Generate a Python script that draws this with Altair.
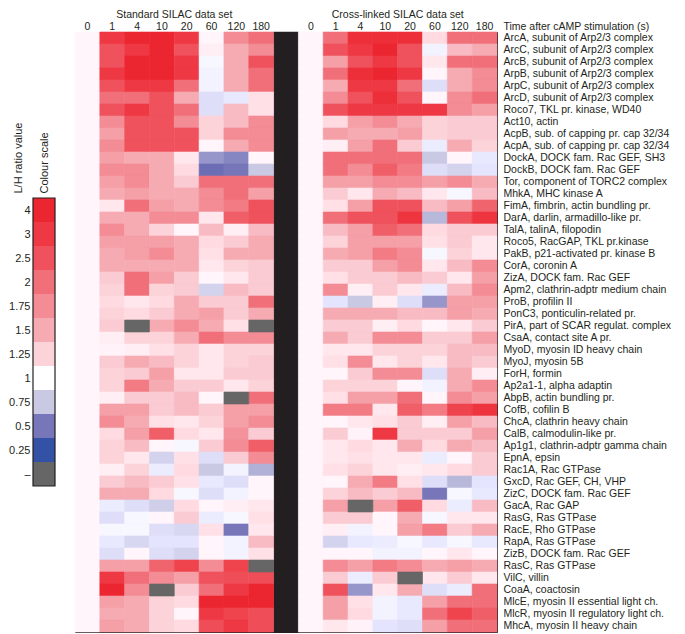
import json
import altair as alt
import pandas as pd

FONT = "Liberation Sans"
INK = "#231f20"
FS = 10.5
FS_LEG = 11

proteins = [
    "ArcA, subunit of Arp2/3 complex", "ArcC, subunit of Arp2/3 complex",
    "ArcB, subunit of Arp2/3 complex", "ArpB, subunit of Arp2/3 complex",
    "ArpC, subunit of Arp2/3 complex", "ArcD, subunit of Arp2/3 complex",
    "Roco7, TKL pr. kinase, WD40", "Act10, actin",
    "AcpB, sub. of capping pr. cap 32/34", "AcpA, sub. of capping pr. cap 32/34",
    "DockA, DOCK fam. Rac GEF, SH3", "DockB, DOCK fam. Rac GEF",
    "Tor, component of TORC2 complex", "MhkA, MHC kinase A",
    "FimA, fimbrin, actin bundling pr.", "DarA, darlin, armadillo-like pr.",
    "TalA, talinA, filopodin", "Roco5, RacGAP, TKL pr.kinase",
    "PakB, p21-activated pr. kinase B", "CorA, coronin A",
    "ZizA, DOCK fam. Rac GEF", "Apm2, clathrin-adptr medium chain",
    "ProB, profilin II", "PonC3, ponticulin-related pr.",
    "PirA, part of SCAR regulat. complex", "CsaA, contact site A pr.",
    "MyoD, myosin ID heavy chain", "MyoJ, myosin 5B",
    "ForH, formin", "Ap2a1-1, alpha adaptin",
    "AbpB, actin bundling pr.", "CofB, cofilin B",
    "ChcA, clathrin heavy chain", "CalB, calmodulin-like pr.",
    "Ap1g1, clathrin-adptr gamma chain", "EpnA, epsin",
    "Rac1A, Rac GTPase", "GxcD, Rac GEF, CH, VHP",
    "ZizC, DOCK fam. Rac GEF", "GacA, Rac GAP",
    "RasG, Ras GTPase", "RacE, Rho GTPase",
    "RapA, Ras GTPase", "ZizB, DOCK fam. Rac GEF",
    "RasC, Ras GTPase", "VilC, villin",
    "CoaA, coactosin", "MlcE, myosin II essential light ch.",
    "MlcR, myosin II regulatory light ch.", "MhcA, myosin II heavy chain",
]

times = ["0", "1", "4", "10", "20", "60", "120", "180"]

# ---- Standard SILAC data set (L/H ratio per time point, rows in protein order)
std_0 = [1, 1, 1, 1, 1, 1, 1, 1, 1, 1,
         1, 1, 1, 1, 1, 1, 1, 1, 1, 1,
         1, 1, 1, 1, 1, 1, 1, 1, 1, 1,
         1, 1, 1, 1, 1, 1, 1, 1, 1, 1,
         1, 1, 1, 1, 1, 1, 1, 1, 1, 1]
std_1 = [3, 2.5, 2.5, 3, 2.5, 2, 2.5, 1.75, 1.6, 1.75,
         1.6, 1.75, 1.6, 1.5, 1.1, 1.5, 1.75, 1.6, 1.5, 1.5,
         1.3, 1.25, 1.2, 1.25, 1.3, 1.05, 1.02, 1.3, 1.25, 1.25,
         1.05, 1.6, 1.75, 1.2, 1.25, 1.25, 1.05, 1.3, 1.5, 0.92,
         0.85, 0.97, 0.9, 0.85, 1.6, 3, 4, 1.6, 1.5, 1.6]
std_4 = [4, 3, 4, 4, 3, 2, 3, 2.5, 2.5, 2.5,
         1.5, 1.75, 1.75, 1.6, 2, 1.5, 1.5, 1.6, 1.6, 1.5,
         2, 2, 1.1, 1.2, None, 1.25, 1.05, 1.5, 1.3, 1.9,
         1.3, 1.6, 1.5, 1.6, 1.4, 1.1, 1.25, 1.4, 1.5, 0.85,
         0.97, 0.97, 0.82, 1.0, 1.6, 2, 1.75, 1.5, 1.5, 1.5]
std_10 = [4, 4, 4, 4, 3, 2.5, 2.5, 2.5, 2.5, 2.5,
          1.5, 1.5, 1.5, 1.5, 1.6, 1.75, 1.25, 1.6, 1.75, 1.5,
          1.6, 1.25, 1.2, 1.3, 1.5, 1.25, 1.15, 1.4, 1.6, 1.5,
          1.3, 1.3, 1.15, 2.3, 1.0, 0.8, 0.92, 1.3, 1.2, 0.78,
          1.0, 0.85, 0.88, 0.85, 2.2, 1.75, None, 1.25, 1.25, 1.25]
std_20 = [3, 2.5, 3, 3, 2, 1.5, 2, 1.75, 2.5, 2.5,
          1.1, 1.2, 1.3, 1.5, 1.5, 1.75, 1.0, 1.5, 1.5, 1.5,
          1.3, 1.3, 1.5, 1.5, 1.75, 1.5, 1.25, 1.25, 1.1, 1.3,
          1.4, 1.4, 1.1, 1.2, 0.97, 1.15, 1.2, 1.15, 0.97, 1.2,
          1.3, 0.82, 0.88, 0.8, 2.8, 1.6, 1.3, 1.2, 1.0, 1.2]
std_60 = [1.0, 1.05, 0.97, 0.95, 0.95, 0.85, 0.85, 1.25, 1.25, 1.0,
          0.6, 0.45, 2, 1.75, 1.75, 1.1, 1.4, 1.2, 1.15, 1.1,
          1.0, 0.8, 1.3, 1.6, 1.5, 2, 1.1, 1.1, 1.1, 1.3,
          1.0, 1.3, 1.25, 1.1, 1.3, 0.85, 0.75, 0.9, 0.85, 1.0,
          0.92, 1.15, 1.0, 1.0, 1.75, 2.5, 2, 4, 3, 2.6]
std_120 = [1.75, 1.5, 1.5, 1.5, 1.5, 0.9, 1.4, 1.4, 1.75, 1.5,
           0.55, 0.5, 2, 2, 1.9, 2.3, 1.05, 1.3, 1.5, 1.25,
           1.1, 1.4, 1.3, 1.3, 1.15, 1.75, 1.25, 1.25, 1.3, 1.1,
           None, 1.6, 1.6, 1.7, 1.75, 1.3, 0.95, 0.85, 0.95, 1.05,
           0.97, 0.5, 0.95, 0.95, 2.8, 2.6, 3, 4, 2.8, 3]
std_180 = [2, 1.75, 2.5, 2, 2, 1.15, 1.15, 1.75, 1.75, 1.75,
           1.0, 0.75, 2, 1.6, 2.5, 2.5, 1.4, 1.5, 1.5, 1.3,
           1.3, 1.3, 2, 1.5, None, 1.75, 1.25, 1.3, 1.3, 1.25,
           2, 1.6, 1.75, 1.3, 2.3, 1.75, 0.68, 1.0, 1.0, 1.1,
           1.15, 1.1, 1.4, 1.15, None, 2.6, 4, 4, 2.6, 2.6]

# ---- Cross-linked SILAC data set
xl_0 = [1, 1, 1, 1, 1, 1, 1, 1, 1, 1,
        1, 1, 1, 1, 1, 1, 1, 1, 1, 1,
        1, 1, 1, 1, 1, 1, 1, 1, 1, 1,
        1, 1, 1, 1, 1, 1, 1, 1, 1, 1,
        1, 1, 1, 1, 1, 1, 1, 1, 1, 1]
xl_1 = [2, 2.5, 1.6, 2, 1.5, 1.75, 2.5, 1.2, 1.6, 1.05,
        2, 2, 1.6, 1.3, 1.15, 2, 1.4, 1.25, 1.5, 1.3,
        1.15, 1.75, 0.88, 1.5, 1.3, 1.5, 1.1, 1.15, 1.0, 1.25,
        1.15, 1.9, 1.0, 1.3, 1.1, 1.1, 1.15, 1.0, 1.25, 1.6,
        1.3, 1.05, 0.8, 1.0, 1.75, 1.3, 2.5, 1.6, 1.6, 1.1]
xl_4 = [3.5, 3, 2.5, 3.5, 3, 2.5, 3, 1.6, 1.5, 1.6,
        2, 1.75, 1.6, 1.1, 1.6, 2.5, 1.6, 1.6, 1.6, 1.3,
        1.3, 1.05, 0.75, 1.5, 1.3, 1.3, 1.1, 1.75, 1.3, 1.25,
        1.6, 1.9, 1.1, 1.02, 1.2, 1.15, 1.25, 1.5, 1.4, None,
        1.3, 0.95, 0.9, 1.0, 1.6, 0.92, 0.6, 1.15, 1.2, 1.02]
xl_10 = [3.5, 4, 3, 4, 3, 3.5, 3, 1.75, 1.5, 2,
         2, 2.3, 1.75, 1.5, 2.5, 2.5, 2.3, 1.6, 1.9, 1.6,
         1.3, 1.3, 1.05, 1.5, 1.05, 1.75, 1.25, 1.1, 1.75, 1.25,
         1.6, 1.1, 1.15, 3, 1.1, 1.1, 1.1, 1.9, 1.3, 1.6,
         1.0, 1.0, 0.92, 0.95, 1.9, 1.3, 1.1, 0.95, 0.95, 0.88]
xl_20 = [3.5, 2.5, 2.5, 3, 2, 2.5, 3, 1.5, 1.6, 1.3,
         2, 1.9, 1.75, 1.4, 2.5, 3.2, 2, 1.6, 1.75, 1.75,
         1.4, 1.1, 0.85, 1.4, 1.2, 1.75, 1.25, 1.25, 1.75, 1.0,
         2, 2.3, 1.3, 1.3, 1.5, 1.1, 1.05, 1.15, 1.4, 2.3,
         1.5, 1.6, 0.97, 0.95, 1.75, None, 1.5, 0.9, 0.9, 0.85]
xl_60 = [1.2, 0.95, 1.1, 1.0, 0.85, 1.0, 3, 1.25, 1.25, 0.92,
         0.75, 0.85, 1.6, 1.1, 1.4, 0.7, 1.2, 1.15, 0.97, 1.1,
         1.3, 0.92, 0.6, 1.4, 1.0, 1.3, 1.25, 1.1, 0.85, 0.95,
         1.0, 1.9, 1.05, 1.3, 1.2, 0.92, 1.1, 0.85, 0.5, 1.2,
         0.97, 1.9, 0.9, 1.0, 1.5, 1.1, 0.85, 1.6, 2, 1.6]
xl_120 = [2, 1.4, 2, 1.5, 1.5, 1.75, 1.75, 1.3, 1.3, 1.5,
          1.0, 0.8, 1.75, 0.97, 1.6, 2.5, 1.3, 1.3, 1.25, 1.4,
          1.1, 1.4, 1.6, 1.6, 1.1, 1.3, 1.4, 1.4, 1.5, 1.5,
          1.75, 2.8, 1.6, 1.3, 1.5, 1.0, 1.2, 0.7, 0.97, 0.92,
          1.1, 1.3, 0.97, 1.1, 1.6, 1.3, 0.92, 2, 2.8, 2]
xl_180 = [2, 1.5, 2, 1.75, 1.75, 2, 1.6, 1.3, 1.3, 1.25,
          0.9, 0.88, 1.5, 1.4, 2.2, 3.2, 1.3, 1.1, 1.1, 1.75,
          1.6, 1.75, 1.6, 1.5, 1.3, 1.6, 1.4, 1.3, 1.05, 1.75,
          1.6, 3.2, 1.4, 1.6, 1.4, 1.3, 1.3, 0.88, 0.9, 1.4,
          1.1, 1.5, 0.9, 1.0, 1.5, 1.1, 2, 2, 2.3, 2]

standard = [std_0, std_1, std_4, std_10, std_20, std_60, std_120, std_180]
crosslinked = [xl_0, xl_1, xl_4, xl_10, xl_20, xl_60, xl_120, xl_180]

dataset_titles = ["Standard SILAC data set", "Cross-linked SILAC data set"]
time_title = "Time after cAMP stimulation (s)"

legend_labels = ["4", "3", "2.5", "2", "1.75", "1.5", "1.25", "1",
                 "0.75", "0.5", "0.25", "\u2013"]
legend_colors = ["#ec2630", "#ee3843", "#ef525c", "#f06f79", "#f38c95",
                 "#f6abb3", "#fbd3d9", "#ffffff", "#c9c9e3", "#7676b9",
                 "#3352a6", "#666666"]

# ---------------------------------------------------------------- tables
records = []
for key, series in (("S", standard), ("C", crosslinked)):
    for t, vals in zip(times, series):
        for p, v in zip(proteins, vals):
            records.append({"col": f"{key}|{t}", "protein": p, "v": v})
heat_df = pd.DataFrame(records)

col_domain = [f"S|{t}" for t in times] + ["gap"] + [f"C|{t}" for t in times]

heat_scale = alt.Scale(
    type="linear",
    domain=[float(s) for s in legend_labels[-2::-1]],
    range=legend_colors[-2::-1],
    clamp=True,
)

x_scale = alt.Scale(domain=col_domain, paddingInner=0, paddingOuter=0)
y_scale = alt.Scale(domain=proteins, paddingInner=0, paddingOuter=0)

x_axis = alt.Axis(
    orient="top", title=None, labelAngle=0, ticks=False, tickSize=0,
    domain=False, grid=False, labelPadding=2.6, labelBaseline="alphabetic",
    labelFont=FONT, labelFontSize=FS, labelColor=INK,
    labelExpr="datum.value == 'gap' ? '' : split(datum.value, '|')[1]",
)
y_axis = alt.Axis(
    orient="right", title=time_title, titleAngle=0, titleX=6, titleY=-2.6,
    titleAlign="left", titleBaseline="alphabetic", titleFont=FONT,
    titleFontSize=FS, titleFontWeight="normal", titleColor=INK,
    ticks=False, tickSize=0, domain=False, grid=False, labelPadding=6,
    labelFont=FONT, labelFontSize=FS, labelColor=INK, labelLimit=400,
    labelBaseline="middle",
)

X = alt.X("col:N", scale=x_scale, axis=x_axis)
Y = alt.Y("protein:N", scale=y_scale, axis=y_axis)

gap = alt.Chart(pd.DataFrame({"col": ["gap"]})).mark_rect(
    fill=INK, stroke=INK, strokeWidth=0.5
).encode(x=X)

heat = alt.Chart(heat_df).transform_filter("isValid(datum.v)").mark_rect(
    strokeWidth=0.6
).encode(
    x=X, y=Y,
    fill=alt.Fill("v:Q", scale=heat_scale, legend=None),
    stroke=alt.Stroke("v:Q", scale=heat_scale, legend=None),
)

missing = alt.Chart(heat_df).transform_filter("!isValid(datum.v)").mark_rect(
    fill=legend_colors[-1], stroke=legend_colors[-1], strokeWidth=0.6
).encode(x=X, y=Y)

titles = alt.Chart(
    pd.DataFrame({"col": ["S|10", "C|10"], "t": dataset_titles})
).mark_text(
    font=FONT, fontSize=FS, color=INK, align="center", baseline="alphabetic"
).encode(
    x=alt.X("col:N", scale=x_scale, axis=x_axis, bandPosition=1),
    y=alt.value(-14.3),
    text="t:N",
)

main = alt.layer(gap, heat, missing, titles)

# ---------------------------------------------------------------- colour scale
leg_x_scale = alt.Scale(domain=[0, 1], range=[-42, -20], nice=False, zero=False)
leg_y_scale = alt.Scale(domain=[0, len(legend_labels)], range=[166, 454],
                        nice=False, zero=False)

leg_x_axis = alt.Axis(
    orient="bottom", title="Colour scale", labels=False, ticks=False,
    domain=False, grid=False, titleAngle=270, titleX=-31, titleY=-439,
    titleAlign="left", titleBaseline="middle", titleFont=FONT,
    titleFontSize=FS_LEG, titleFontWeight="normal", titleColor=INK,
)
leg_y_axis = alt.Axis(
    orient="left", offset=42, title="L/H ratio value",
    values=[k + 0.5 for k in range(len(legend_labels))],
    labelExpr=json.dumps(legend_labels) + "[floor(datum.value)]",
    ticks=False, tickSize=0, domain=False, grid=False, labelPadding=3,
    labelFlush=False, labelFont=FONT, labelFontSize=FS_LEG, labelColor=INK,
    labelBaseline="middle",
    titleAngle=270, titleX=-15, titleY=161, titleAlign="left",
    titleBaseline="middle", titleFont=FONT, titleFontSize=FS_LEG,
    titleFontWeight="normal", titleColor=INK,
)

leg_df = pd.DataFrame({"lab": legend_labels})

cells = alt.Chart(leg_df).transform_window(
    n="row_number()"
).transform_calculate(top="datum.n - 1").mark_rect().encode(
    x=alt.X(datum=0, type="quantitative", scale=leg_x_scale, axis=leg_x_axis),
    x2=alt.X2(datum=1),
    y=alt.Y("top:Q", scale=leg_y_scale, axis=leg_y_axis),
    y2=alt.Y2("n:Q"),
    fill=alt.Fill("lab:N", scale=alt.Scale(domain=legend_labels,
                                           range=legend_colors), legend=None),
)

frame = alt.Chart(pd.DataFrame({"k": [0]})).mark_rect(
    filled=False, stroke=INK, strokeWidth=1.2
).encode(
    x=alt.X(datum=0, type="quantitative", scale=leg_x_scale, axis=leg_x_axis),
    x2=alt.X2(datum=1),
    y=alt.Y(datum=0, type="quantitative", scale=leg_y_scale, axis=leg_y_axis),
    y2=alt.Y2(datum=len(legend_labels)),
)

legend = alt.layer(cells, frame)

chart = alt.layer(main, legend).resolve_scale(
    x="independent", y="independent", fill="independent"
).properties(
    width=422, height=600,
    autosize=alt.AutoSizeParams(type="none"),
    padding={"left": 67, "top": 24, "right": 180, "bottom": 2},
).configure(font=FONT).configure_view(stroke=INK, strokeWidth=1)

chart.save("out.html", embed_options={"renderer": "svg", "actions": False})
